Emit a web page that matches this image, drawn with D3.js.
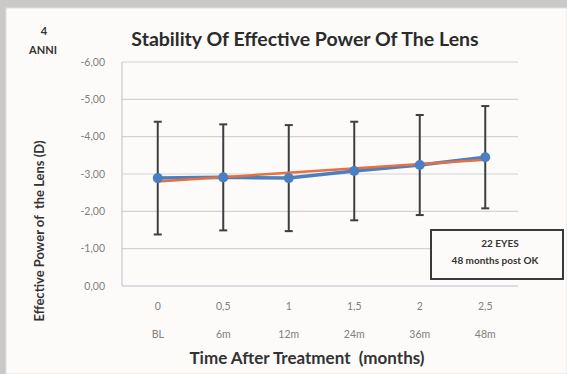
<!DOCTYPE html>
<html>
<head>
<meta charset="utf-8">
<script src="https://cdn.jsdelivr.net/npm/d3@7"></script>
<style>
  body { margin: 0; background: #fff; }
  svg { display: block; }
  text { white-space: pre; }
</style>
</head>
<body>
<div id="chart"></div>
<script>
// data
var timeTicks = ["0", "0,5", "1", "1,5", "2", "2,5"];
var visitLabels = ["BL", "6m", "12m", "24m", "36m", "48m"];
var meanPower = [-2.89, -2.91, -2.89, -3.08, -3.24, -3.45];
var sdPower = [1.51, 1.42, 1.42, 1.32, 1.34, 1.37];
var trendEnds = [-2.80, -3.38];
var yTicks = [0, -1, -2, -3, -4, -5, -6];

var W = 567, H = 374;
var margin = {top: 62, right: 49, bottom: 88, left: 125},
    width = W - margin.left - margin.right,
    height = H - margin.top - margin.bottom;

var svg = d3.select("#chart").append("svg").attr("width", W).attr("height", H);

// frame
svg.append("rect").attr("width", W).attr("height", H).attr("fill", "#c9c9c9");
svg.append("rect").attr("x", 6).attr("y", 8).attr("width", W - 6).attr("height", H - 8)
  .attr("fill", "#fdfbfa").attr("stroke", "#e2ddda");

var g = svg.append("g").attr("transform", "translate(" + margin.left + "," + margin.top + ")");

var x = d3.scaleBand().domain(visitLabels).range([0, width]);
var y = d3.scaleLinear().domain([0, -6]).range([height, 0]);

// gridlines
g.append("g").selectAll("line")
  .data(yTicks)
  .enter().append("line")
    .attr("x1", -3).attr("x2", width)
    .attr("y1", function(d) { return y(d); })
    .attr("y2", function(d) { return y(d); })
    .attr("stroke", function(d) { return d === 0 ? "#b8c0c8" : "#d3d3d3"; })
    .attr("stroke-width", 1.2);

g.append("line").attr("x1", -3).attr("x2", -3).attr("y1", 0).attr("y2", height)
  .attr("stroke", "#c4cbd2").attr("stroke-width", 1.2);

// y tick labels
g.append("g").selectAll("text")
  .data(yTicks)
  .enter().append("text")
    .attr("x", -20)
    .attr("y", function(d) { return y(d); })
    .attr("dy", "0.35em")
    .attr("text-anchor", "end")
    .attr("font-family", "Lato, sans-serif")
    .attr("font-size", 10.5)
    .attr("fill", "#808080")
    .text(function(d) { return d3.format(".2f")(d).replace(".", ",").replace("−", "-"); });

// x tick labels (two rows)
g.append("g").selectAll("text")
  .data(timeTicks)
  .enter().append("text")
    .attr("x", function(d, i) { return x(visitLabels[i]) + x.bandwidth() / 2; })
    .attr("y", height + 24)
    .attr("text-anchor", "middle")
    .attr("font-family", "Lato, sans-serif")
    .attr("font-size", 10.5)
    .attr("fill", "#808080")
    .text(function(d) { return d; });

g.append("g").selectAll("text")
  .data(visitLabels)
  .enter().append("text")
    .attr("x", function(d) { return x(d) + x.bandwidth() / 2; })
    .attr("y", height + 52)
    .attr("text-anchor", "middle")
    .attr("font-family", "Lato, sans-serif")
    .attr("font-size", 10.5)
    .attr("fill", "#808080")
    .text(function(d) { return d; });

// error bars
var eb = g.append("g").selectAll("g")
  .data(visitLabels)
  .enter().append("g")
    .attr("stroke", "#3c3f42").attr("stroke-width", 2);
eb.append("line")
  .attr("x1", function(d) { return x(d) + x.bandwidth() / 2; })
  .attr("x2", function(d) { return x(d) + x.bandwidth() / 2; })
  .attr("y1", function(d, i) { return y(meanPower[i] - sdPower[i]); })
  .attr("y2", function(d, i) { return y(meanPower[i] + sdPower[i]); });
eb.append("line")
  .attr("x1", function(d) { return x(d) + x.bandwidth() / 2 - 4; })
  .attr("x2", function(d) { return x(d) + x.bandwidth() / 2 + 4; })
  .attr("y1", function(d, i) { return y(meanPower[i] - sdPower[i]); })
  .attr("y2", function(d, i) { return y(meanPower[i] - sdPower[i]); });
eb.append("line")
  .attr("x1", function(d) { return x(d) + x.bandwidth() / 2 - 4; })
  .attr("x2", function(d) { return x(d) + x.bandwidth() / 2 + 4; })
  .attr("y1", function(d, i) { return y(meanPower[i] + sdPower[i]); })
  .attr("y2", function(d, i) { return y(meanPower[i] + sdPower[i]); });

// mean line
var line = d3.line()
  .x(function(d, i) { return x(visitLabels[i]) + x.bandwidth() / 2; })
  .y(function(d) { return y(d); });

g.append("path")
  .datum(meanPower)
  .attr("fill", "none")
  .attr("stroke", "#4a7fc1")
  .attr("stroke-width", 3.5)
  .attr("d", line);

// trend line (orange)
var first = visitLabels[0], last = visitLabels[visitLabels.length - 1];
g.append("line")
  .attr("x1", x(first) + x.bandwidth() / 2)
  .attr("x2", x(last) + x.bandwidth() / 2)
  .attr("y1", y(trendEnds[0]))
  .attr("y2", y(trendEnds[1]))
  .attr("stroke", "#e8703f")
  .attr("stroke-width", 2.5);

g.append("g").selectAll("circle")
  .data(meanPower)
  .enter().append("circle")
    .attr("cx", function(d, i) { return x(visitLabels[i]) + x.bandwidth() / 2; })
    .attr("cy", function(d) { return y(d); })
    .attr("r", 5)
    .attr("fill", "#4a7fc1");

// titles
svg.append("text")
  .attr("x", 305).attr("y", 46)
  .attr("text-anchor", "middle")
  .attr("font-family", "Lato, sans-serif").attr("font-weight", "bold")
  .attr("font-size", 19.5).attr("fill", "#2b2b2b")
  .text("Stability Of Effective Power Of The Lens");

svg.append("text")
  .attr("x", 44).attr("y", 35)
  .attr("text-anchor", "middle")
  .attr("font-family", "Lato, sans-serif").attr("font-weight", "bold")
  .attr("font-size", 11).attr("fill", "#333")
  .text("4");
svg.append("text")
  .attr("x", 43).attr("y", 54)
  .attr("text-anchor", "middle")
  .attr("font-family", "Lato, sans-serif").attr("font-weight", "bold")
  .attr("font-size", 11).attr("fill", "#333")
  .text("ANNI");

svg.append("text")
  .attr("transform", "translate(44,231) rotate(-90)")
  .attr("text-anchor", "middle")
  .attr("font-family", "Lato, sans-serif").attr("font-weight", "bold")
  .attr("font-size", 13).attr("fill", "#333")
  .text("Effective Power of  the Lens (D)");

svg.append("text")
  .attr("x", 307).attr("y", 364)
  .attr("text-anchor", "middle")
  .attr("font-family", "Lato, sans-serif").attr("font-weight", "bold")
  .attr("font-size", 17).attr("fill", "#333")
  .text("Time After Treatment  (months)");

// note box
svg.append("rect")
  .attr("x", 431).attr("y", 230).attr("width", 132).attr("height", 49)
  .attr("fill", "#fdfbfa").attr("stroke", "#3a3a3a").attr("stroke-width", 2);
svg.append("text")
  .attr("x", 500).attr("y", 247)
  .attr("text-anchor", "middle")
  .attr("font-family", "Lato, sans-serif").attr("font-weight", "bold")
  .attr("font-size", 10).attr("fill", "#333")
  .text("22 EYES");
svg.append("text")
  .attr("x", 495).attr("y", 264)
  .attr("text-anchor", "middle")
  .attr("font-family", "Lato, sans-serif").attr("font-weight", "bold")
  .attr("font-size", 10).attr("fill", "#333")
  .text("48 months post OK");
</script>
</body>
</html>
